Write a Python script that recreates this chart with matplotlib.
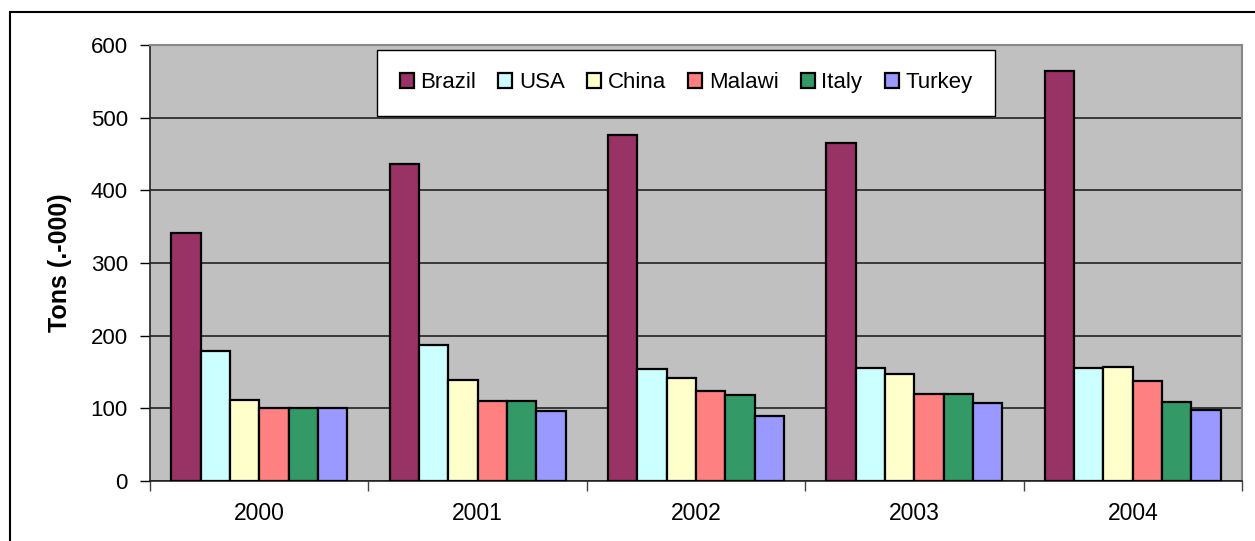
import numpy as np
import matplotlib.pyplot as plt
from matplotlib.patches import Rectangle

plt.rcParams['font.family'] = ['Liberation Sans', 'DejaVu Sans']

years = ['2000', '2001', '2002', '2003', '2004']
countries = ['Brazil', 'USA', 'China', 'Malawi', 'Italy', 'Turkey']
brazil = [341, 436, 476, 465, 564]
usa = [179, 187, 154, 155, 155]
china = [112, 139, 142, 147, 157]
malawi = [100, 110, 124, 120, 137]
italy = [100, 110, 118, 120, 109]
turkey = [100, 96, 89, 107, 98]
colors = ['#993366', '#CCFFFF', '#FFFFCC', '#FF8080', '#339966', '#9999FF']

series = [brazil, usa, china, malawi, italy, turkey]

fig = plt.figure(figsize=(12.55, 5.41), dpi=100)
ax = fig.add_axes([150/1255, 1-481/541, 1092/1255, 436/541])
ax.set_facecolor('#C0C0C0')

x = np.arange(len(years))
w = 0.805/6
for i, (vals, c, name) in enumerate(zip(series, colors, countries)):
    ax.bar(x + (i - 2.5)*w, vals, width=w, color=c, edgecolor='black',
           linewidth=1.6, label=name, zorder=3)

ax.set_xlim(-0.5, 4.5)
ax.set_ylim(0, 600)
ax.set_yticks(np.arange(0, 601, 100))
ax.yaxis.grid(True, color='#222222', linewidth=1.2, zorder=1)
ax.set_xticks(x)
ax.set_xticklabels(years, fontsize=16.5)
ax.set_xticks(np.arange(-0.5, 5, 1), minor=True)
ax.tick_params(axis='x', which='major', length=0, pad=15)
ax.tick_params(axis='x', which='minor', length=7, width=1, color='#444444')
ax.tick_params(axis='y', labelsize=16, length=7, width=1, pad=9)
ax.set_ylabel('Tons (.-000)', fontsize=18, fontweight='bold', labelpad=13)

for s in ['top', 'right']:
    ax.spines[s].set_color('#888888')
    ax.spines[s].set_linewidth(1.5)
for s in ['left', 'bottom']:
    ax.spines[s].set_color('#222222')
    ax.spines[s].set_linewidth(1.2)

leg = ax.legend(ncol=6, loc='upper center', bbox_to_anchor=(536/1092, 0.988),
                fontsize=16, frameon=True, fancybox=False, framealpha=1,
                edgecolor='black', handlelength=0.63, handleheight=0.63,
                handletextpad=0.3, columnspacing=1.0, borderpad=1.0,
                borderaxespad=0)
leg.get_frame().set_linewidth(1.0)

fig.patches.append(Rectangle((10/1255, -0.1), 1.2, 1-12/541+0.1,
                             transform=fig.transFigure, fill=False,
                             edgecolor='black', linewidth=1.5))

fig.savefig('out.png', dpi=100)
